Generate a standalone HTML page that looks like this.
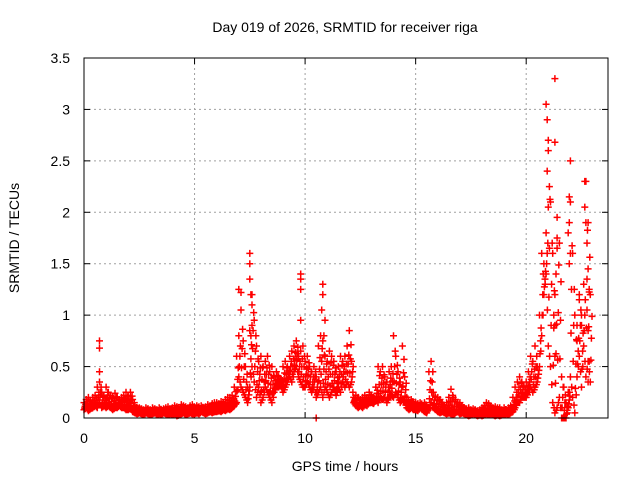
<!DOCTYPE html>
<html><head><meta charset="utf-8"><style>
body{margin:0;background:#fff}
svg{display:block;font-family:"Liberation Sans",sans-serif}
</style></head><body>
<svg id="chart" width="640" height="480" viewBox="0 0 640 480">
<rect width="640" height="480" fill="#fff"/>
<text x="345" y="32" font-size="14" text-anchor="middle">Day 019 of 2026, SRMTID for receiver riga</text>
<text x="345" y="471" font-size="14" text-anchor="middle">GPS time / hours</text>
<text transform="translate(19,238) rotate(-90)" font-size="14" text-anchor="middle">SRMTID / TECUs</text>
<g id="grid"></g>
<g id="ticks"></g>
<g id="marks"></g>
<rect x="84" y="58" width="524" height="360" fill="none" stroke="#000" stroke-width="1"/>
</svg>
<script>
const xTicks=[0,5,10,15,20];
const yTicks=[0,0.5,1,1.5,2,2.5,3,3.5];
const yTickLabels=["0","0.5","1","1.5","2","2.5","3","3.5"];
const lowBand=[.08,.1,.07,.09,.1,.12,.1,.15,.1,.12,
.1,.12,.1,.08,.1,.1,.12,.1,.1,.08,
.08,.1,.06,.05,.04,.05,.04,.03,.05,.04,
.03,.04,.05,.03,.04,.03,.05,.04,.03,.04,
.03,.04,.02,.03,.04,.05,.03,.04,.05,.04,
.04,.05,.04,.06,.05,.04,.05,.06,.05,.06,
.06,.07,.06,.08,.07,.09,.08,.1,.12,.15,
.4,.3,.25,.2,.15,.3,.5,.35,.2,.3,
.15,.2,.3,.25,.2,.15,.25,.3,.3,.32,
.25,.3,.35,.4,.35,.45,.5,.4,.35,.3,
.3,.35,.3,.25,.3,.2,.25,.3,.2,.3,
.25,.2,.25,.3,.22,.3,.25,.35,.3,.35,
.3,.35,.15,.12,.1,.12,.1,.13,.12,.15,
.15,.14,.18,.15,.2,.18,.2,.15,.2,.22,
.2,.25,.2,.15,.18,.15,.1,.08,.1,.08,
.08,.07,.1,.08,.06,.05,.1,.15,.1,.08,
.06,.05,.06,.05,.04,.05,.04,.03,.05,.06,
.04,.05,.04,.03,.02,.03,.04,.03,.02,.03,
.02,.03,.04,.03,.04,.03,.02,.03,.02,.03,
.03,.04,.03,.05,.06,.1,.15,.15,.2,.2,
.2,.25,.3,.25,.3,.35,.5,.8,1.2,1.4,
.7,.5,.15,.05,.1,.2,0,0,0,.1,
.4,.2,.05,.4,.6,.3,.7,.4,.55,.35];
const highBand=[.15,.18,.2,.17,.2,.22,.3,.35,.25,.22,
.3,.25,.22,.2,.24,.2,.18,.2,.22,.25,
.22,.25,.18,.12,.1,.1,.09,.08,.1,.09,
.08,.1,.09,.08,.1,.08,.09,.1,.11,.09,
.1,.12,.11,.1,.13,.12,.11,.1,.12,.13,
.1,.12,.11,.12,.1,.11,.13,.12,.14,.15,
.15,.14,.16,.15,.18,.2,.2,.22,.3,.6,
.8,1.05,.75,.5,.3,.85,1.2,.95,.7,.55,
.6,.5,.55,.6,.45,.5,.4,.45,.4,.38,
.5,.55,.5,.6,.65,.7,.75,.6,.65,.7,
.55,.6,.5,.45,.5,.4,.7,.8,.75,.6,
.55,.65,.6,.55,.45,.5,.6,.55,.6,.7,
.85,.55,.2,.22,.2,.18,.2,.22,.2,.25,
.22,.2,.3,.5,.45,.5,.4,.35,.45,.5,
.8,.6,.45,.35,.7,.4,.2,.15,.18,.15,
.15,.14,.15,.12,.15,.12,.45,.55,.25,.2,
.2,.18,.15,.12,.15,.2,.28,.2,.18,.15,
.15,.12,.1,.09,.1,.08,.09,.08,.07,.08,
.1,.12,.15,.14,.12,.1,.11,.1,.1,.08,
.1,.08,.1,.12,.2,.3,.35,.4,.35,.3,
.35,.45,.6,.55,.7,.5,1.0,1.6,1.5,1.8,
2.6,2.1,1.6,1.2,1.95,1.7,.4,.3,.15,.25,
2.1,1.6,1.0,.9,1.2,1.0,1.3,2.3,1.9,1.2];
const spikeTimes=[0.7,0.7,0.7,7.0,7.1,7.5,7.5,7.5,7.55,7.6,7.6,7.55,9.8,9.8,9.8,9.8,10.5,10.8,10.8,10.75,10.9,10.85,20.9,20.95,21.0,21.0,20.95,21.05,21.0,21.3,21.3,21.4,21.4,21.35,21.25,21.3,21.3,22.0,21.95,22.0,21.95,21.9,21.95,22.0,22.65,22.65,22.7,22.75,22.8,22.85,22.8,22.85,22.8,22.75,22.4,22.3,22.5];
const spikeValues=[.75,.68,.45,1.25,1.22,1.6,1.5,1.35,1.2,1.1,.9,.8,1.4,1.35,1.25,.95,0,1.3,1.2,1.05,.95,.8,3.05,2.9,2.7,2.6,2.4,2.25,2.05,3.3,2.68,1.75,1.65,1.4,1.0,.9,.6,2.5,2.15,2.1,1.9,1.8,1.5,1.6,2.3,2.05,1.9,1.7,1.45,1.25,.85,.55,.35,1.05,1.15,.75,.9];

const X0=84,X1=608,Y0=418,Y1=58,XMAX=23.7,YMAX=3.5;
function xs(t){return X0+(X1-X0)*t/XMAX;}
function ys(v){return Y0-(Y0-Y1)*v/YMAX;}
const NS="http://www.w3.org/2000/svg";
function mk(tag,attrs,parent){const e=document.createElementNS(NS,tag);for(const k in attrs)e.setAttribute(k,attrs[k]);parent.appendChild(e);return e;}
const grid=document.getElementById('grid'),ticks=document.getElementById('ticks'),marks=document.getElementById('marks');
xTicks.forEach(t=>{
  const x=xs(t);
  if(t>0){const g=mk('line',{x1:x,x2:x,y1:Y1,y2:Y0,stroke:'#a0a0a0','stroke-dasharray':'2,3'},grid);
  
  }
  mk('line',{x1:x,x2:x,y1:Y0,y2:Y0-6,stroke:'#000'},ticks);
  mk('line',{x1:x,x2:x,y1:Y1,y2:Y1+6,stroke:'#000'},ticks);
  const l=mk('text',{x:x,y:443,'font-size':14,'text-anchor':'middle'},ticks);
  l.textContent=String(t);
  
  
});
yTicks.forEach((v,i)=>{
  const y=ys(v);
  if(v>0&&v<YMAX){const g=mk('line',{x1:X0,x2:X1,y1:y,y2:y,stroke:'#a0a0a0','stroke-dasharray':'2,3'},grid);
  
  }
  mk('line',{x1:X0,x2:X0+6,y1:y,y2:y,stroke:'#000'},ticks);
  mk('line',{x1:X1,x2:X1-6,y1:y,y2:y,stroke:'#000'},ticks);
  const l=mk('text',{x:70,y:y+5,'font-size':14,'text-anchor':'end'},ticks);
  l.textContent=yTickLabels[i];
  
  
});
let d='';
function plus(t,v){const x=xs(t),y=ys(v);d+=`M${(x-3.5).toFixed(1)} ${y.toFixed(1)}h7M${x.toFixed(1)} ${(y-3.5).toFixed(1)}v7`;}
lowBand.forEach((v,i)=>{
  const t=i*0.1,h=highBand[i],m=(v+h)/2;
  plus(t,v);
  plus(t+0.05,m);
  plus(t+0.025,(v+m)/2);
  plus(t+0.075,(m+h)/2);
  if(i+1<lowBand.length){plus(t+0.06,(v+lowBand[i+1])/2);}
});
highBand.forEach((v,i)=>plus(i*0.1,v));
spikeTimes.forEach((t,i)=>plus(t,spikeValues[i]));
const p=mk('path',{d:d,stroke:'#ff0000','stroke-width':1.5,fill:'none'},marks);


</script>
</body></html>
